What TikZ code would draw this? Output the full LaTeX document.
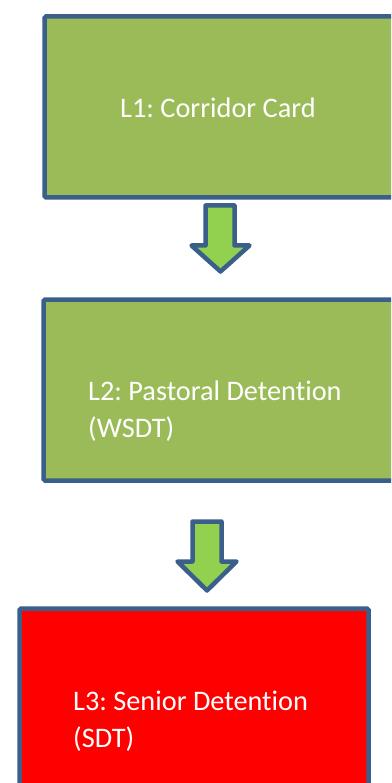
\documentclass[tikz,border=0pt]{standalone}
\usepackage{fontspec}
\setmainfont[Ligatures=NoCommon]{Carlito}
\frenchspacing
\definecolor{bordblue}{HTML}{3A5F8B}
\definecolor{olivegreen}{HTML}{9BBB59}
\definecolor{arrowgreen}{HTML}{92D050}
\definecolor{boxred}{HTML}{FF0000}
\tikzset{
  box/.style={draw=bordblue, line width=4.5pt, rounded corners=1.5pt, inner sep=0pt, outer sep=0pt, anchor=north west},
  label/.style={text=white, anchor=base west, inner sep=0pt, align=left, font=\fontsize{28.3}{37}\selectfont},
  blockarrow/.style={draw=bordblue, fill=arrowgreen, line width=4.5pt, line join=round}
}
\begin{document}
\begin{tikzpicture}[x=1pt,y=-1pt]
\clip (0,0) rectangle (391,783);
\fill[white] (0,0) rectangle (391,783);
% boxes
\node[box, fill=olivegreen, minimum width=380pt, minimum height=181pt] (b1) at (44.5,16.5) {};
\node[box, fill=olivegreen, minimum width=380pt, minimum height=181pt] (b2) at (43.5,299.5) {};
\node[box, fill=boxred, minimum width=349pt, minimum height=200pt] (b3) at (19.5,608.5) {};
% texts
\node[label] (t1) at (120,118) {L1: Corridor Card};
\node[label] (t2) at (88,400.5) {L2: Pastoral Detention};
\node[label] (t2b) at (88,437) {(WSDT)};
\node[label] (t3) at (73,710.5) {L3: Senior Detention};
\node[label] (t3b) at (73,747) {(SDT)};
% arrows
\draw[blockarrow] (205.5,205.5) -- (234.5,205.5) -- (234.5,245.5) -- (249.5,245.5) -- (220.5,271.5) -- (191.5,245.5) -- (205.5,245.5) -- cycle;
\draw[blockarrow] (192.5,521.5) -- (221.5,521.5) -- (221.5,561.5) -- (236.5,561.5) -- (207,590.5) -- (177.5,561.5) -- (192.5,561.5) -- cycle;
\end{tikzpicture}
\end{document}
